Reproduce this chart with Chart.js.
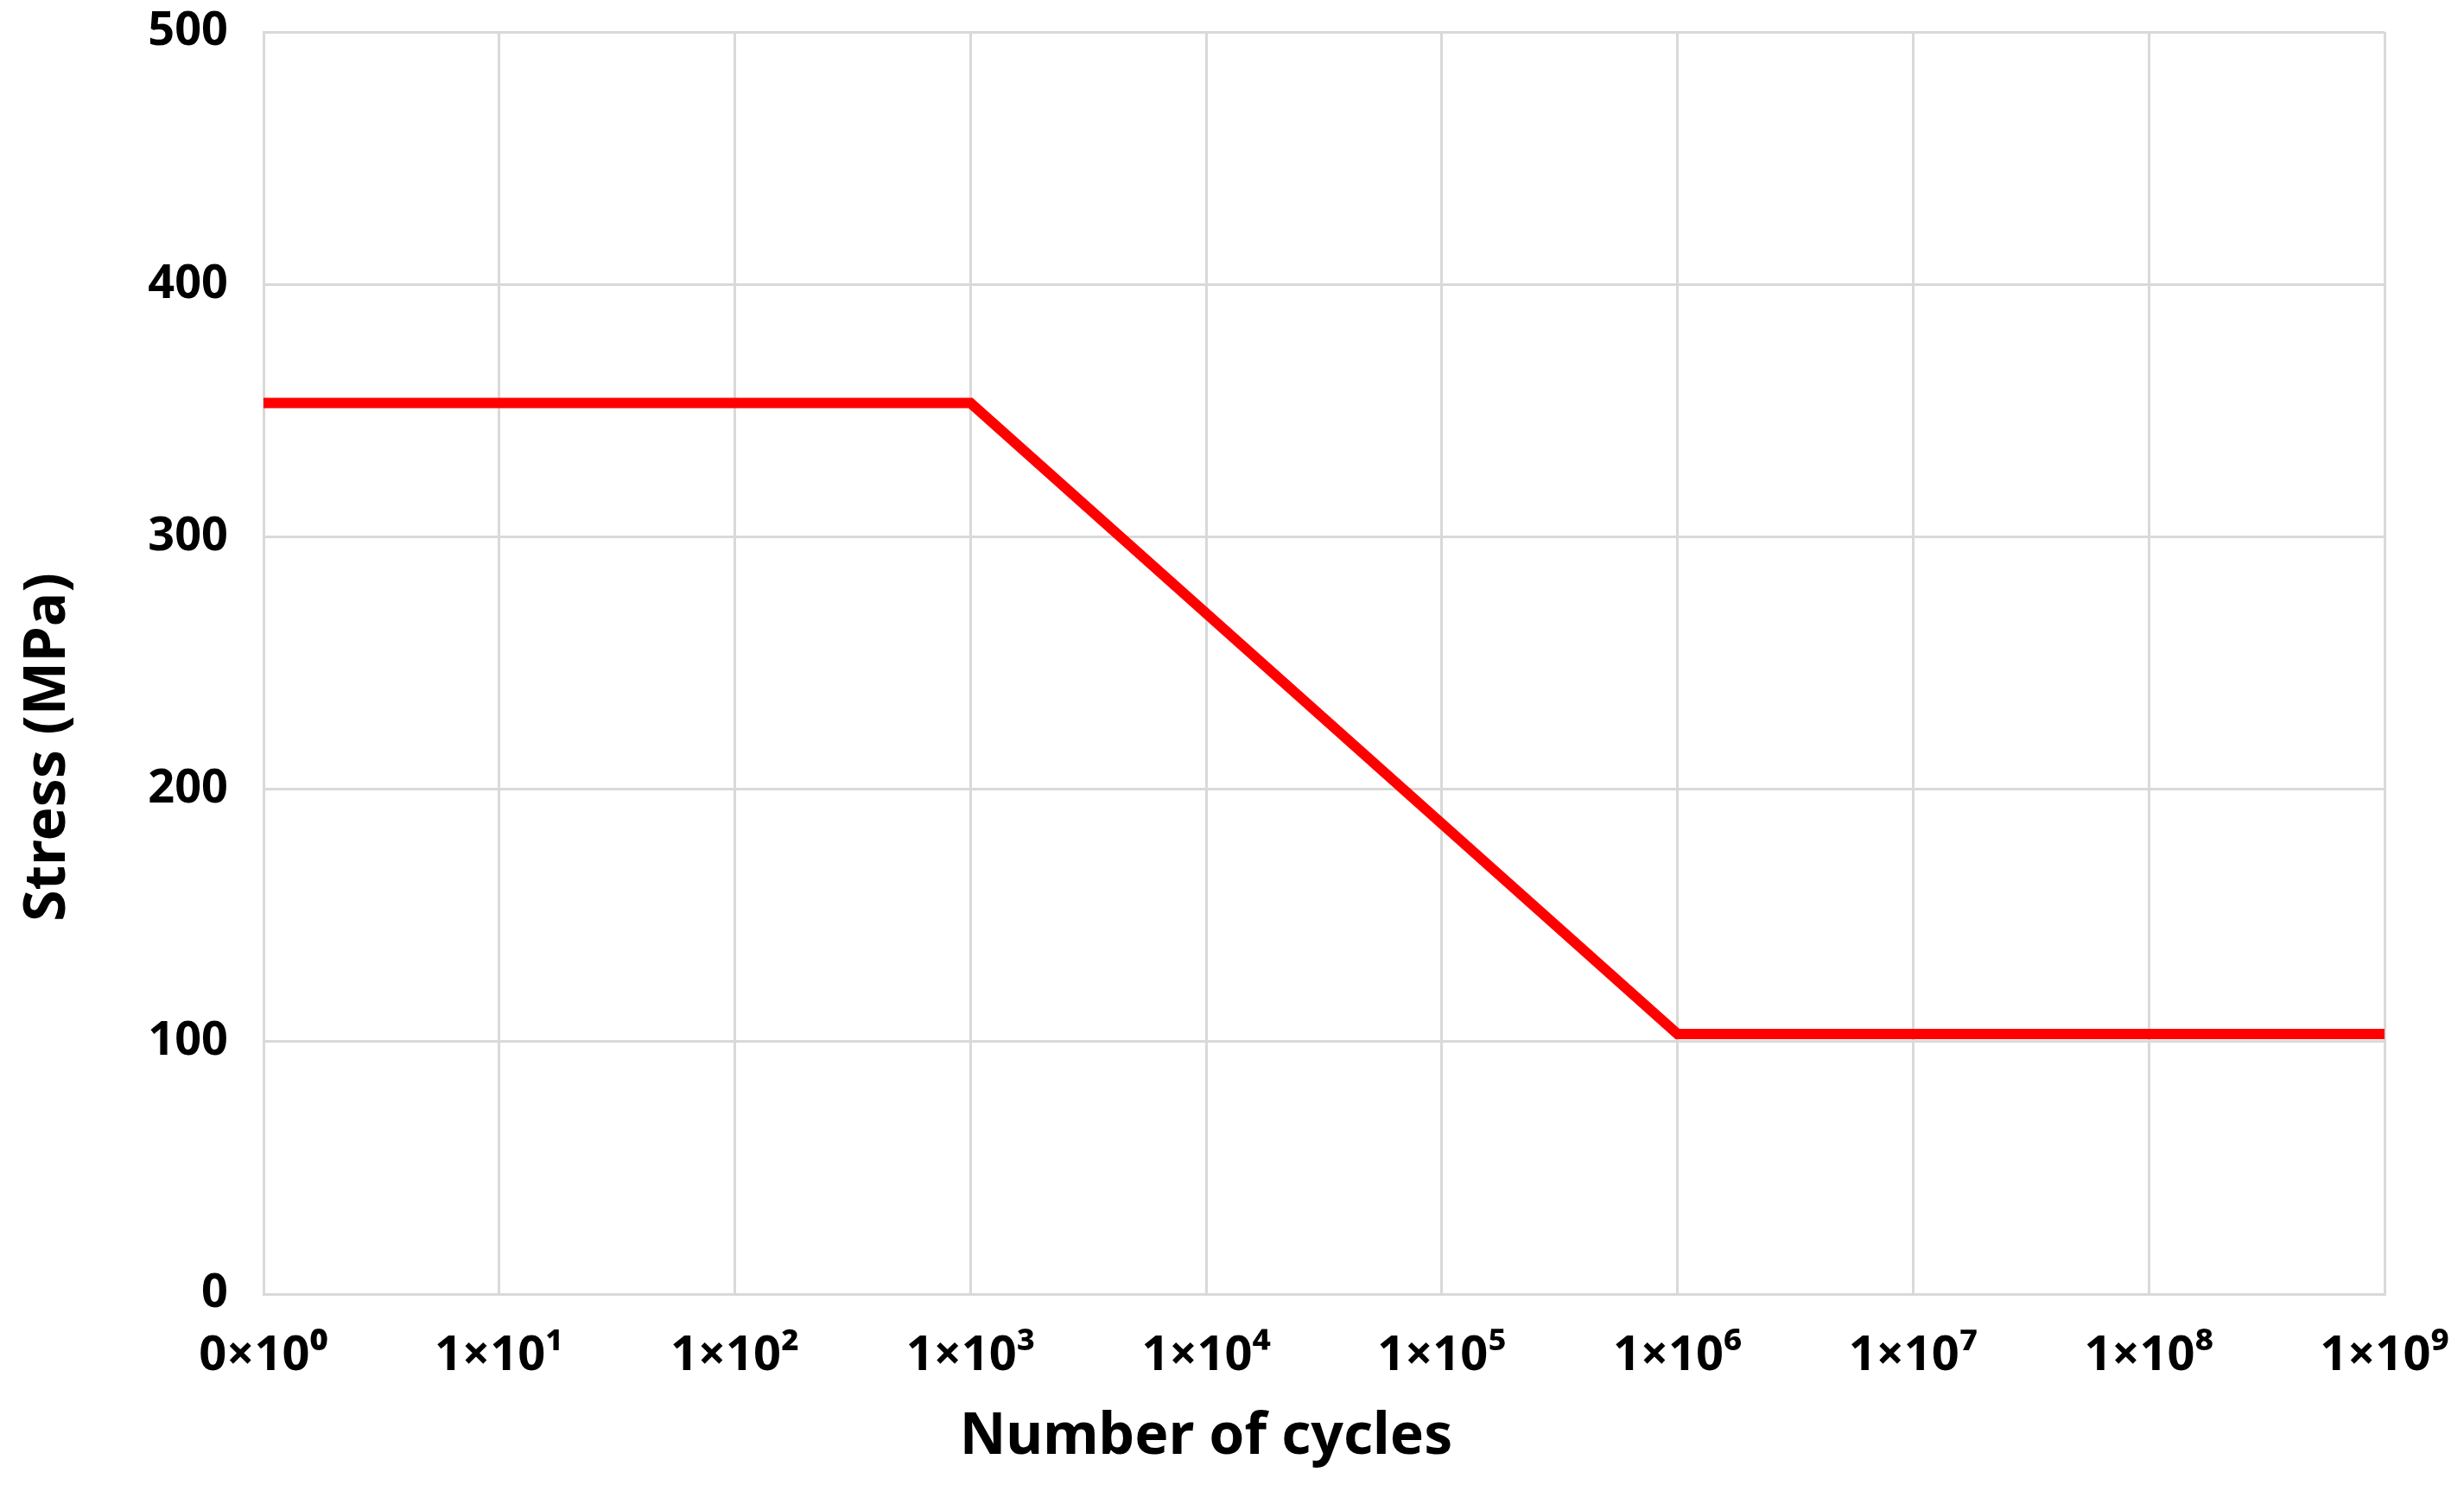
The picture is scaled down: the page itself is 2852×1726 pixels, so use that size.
<!DOCTYPE html>
<html>
<head>
<meta charset="utf-8">
<script src="https://cdn.jsdelivr.net/npm/chart.js@4/dist/chart.umd.min.js"></script>
<style>
  html, body { margin: 0; padding: 0; background: #ffffff; }
  #wrap { width: 2852px; height: 1726px; }
</style>
</head>
<body>
<div id="wrap"><canvas id="c" width="2852" height="1726"></canvas></div>
<script>
// ---- data ----
const cycles = [1, 1e3, 1e6, 1e9];
const stress = [353, 353, 103, 103];
const xTickValues = [1, 1e1, 1e2, 1e3, 1e4, 1e5, 1e6, 1e7, 1e8, 1e9];
const xTickLabels = ['0×10⁰', '1×10¹', '1×10²', '1×10³', '1×10⁴', '1×10⁵', '1×10⁶', '1×10⁷', '1×10⁸', '1×10⁹'];
const yMin = 0, yMax = 500, yStep = 100;
const xTitle = 'Number of cycles';
const yTitle = 'Stress (MPa)';

const points = cycles.map((c, i) => ({ x: c, y: stress[i] }));
const gridColor = '#d9d9d9';
const fontFamily = '"Noto Sans", "DejaVu Sans", sans-serif';
const titleFont = 'bold 66px ' + fontFamily;

// Axis titles drawn as canvas text at the reference's (off-centre) positions
const axisTitles = {
  id: 'axisTitles',
  afterDraw(chart) {
    const ctx = chart.ctx;
    ctx.save();
    ctx.fillStyle = '#000000';
    ctx.font = titleFont;
    ctx.textAlign = 'center';
    ctx.textBaseline = 'middle';
    ctx.fillText(xTitle, 1396, 1664);
    ctx.translate(56, 865);
    ctx.rotate(-Math.PI / 2);
    ctx.fillText(yTitle, 0, 0);
    ctx.restore();
  }
};

new Chart(document.getElementById('c'), {
  type: 'line',
  data: {
    datasets: [{
      data: points,
      borderColor: '#ff0000',
      backgroundColor: '#ff0000',
      borderWidth: 12,
      pointRadius: 0,
      tension: 0,
      fill: false
    }]
  },
  plugins: [axisTitles],
  options: {
    responsive: false,
    animation: false,
    events: [],
    layout: { padding: { top: 37, right: 92, left: 0, bottom: 0 } },
    plugins: { legend: { display: false }, tooltip: { enabled: false } },
    scales: {
      x: {
        type: 'logarithmic',
        min: xTickValues[0],
        max: xTickValues[xTickValues.length - 1],
        afterBuildTicks: (scale) => {
          scale.ticks = xTickValues.map(v => ({ value: v, major: false }));
        },
        afterFit: (scale) => {
          scale.height = 228;
          scale.paddingLeft = 0;
          scale.paddingRight = 0;
        },
        grid: { color: gridColor, lineWidth: 3, drawTicks: false },
        border: { color: gridColor, width: 3 },
        ticks: {
          autoSkip: false,
          maxRotation: 0,
          padding: 38,
          color: '#000000',
          font: { family: fontFamily, size: 56, weight: 'bold' },
          callback: function (value, index) { return xTickLabels[index]; }
        },
        title: { display: false }
      },
      y: {
        type: 'linear',
        min: yMin,
        max: yMax,
        afterFit: (scale) => {
          scale.width = 305;
          scale.paddingTop = 0;
          scale.paddingBottom = 0;
        },
        grid: { color: gridColor, lineWidth: 3, drawTicks: false },
        border: { color: gridColor, width: 3 },
        ticks: {
          stepSize: yStep,
          padding: 41,
          color: '#000000',
          font: { family: fontFamily, size: 54, weight: 'bold' }
        },
        title: { display: false }
      }
    }
  }
});
</script>
</body>
</html>
